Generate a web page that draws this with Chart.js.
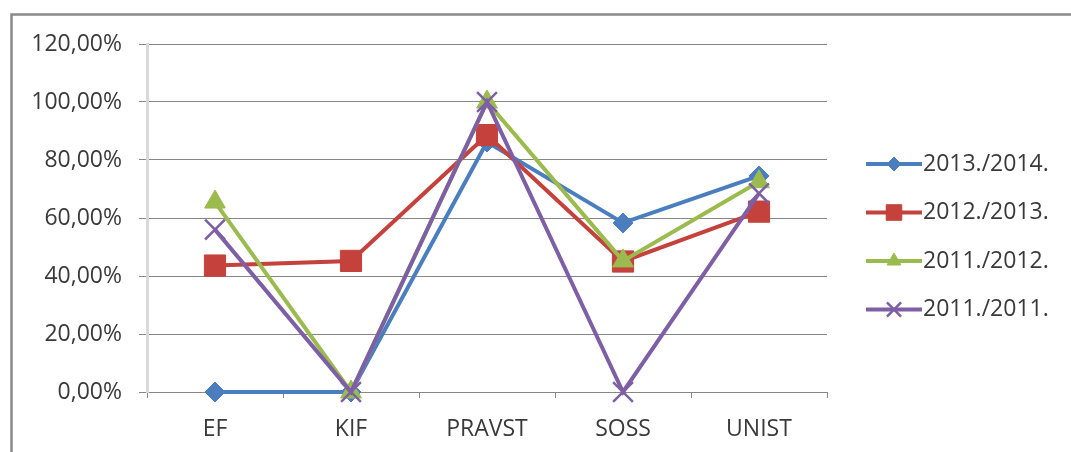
<!DOCTYPE html>
<html>
<head>
<meta charset="utf-8">
<title>Prolaznost</title>
<script src="https://cdn.jsdelivr.net/npm/chart.js@4.4.1/dist/chart.umd.min.js"></script>
<style>
  html, body { margin: 0; padding: 0; background: #fff; }
  #wrap { width: 1071px; height: 452px; }
</style>
</head>
<body>
<div id="wrap"><canvas id="lineChart" width="1071" height="452"></canvas></div>
<script>
// --- Data ---
const categories = ['EF', 'KIF', 'PRAVST', 'SOSS', 'UNIST'];
const seriesNames = ['2013./2014.', '2012./2013.', '2011./2012.', '2011./2011.'];
const values1314 = [0, 0, 0.862, 0.583, 0.745];
const values1213 = [0.436, 0.452, 0.886, 0.45, 0.622];
const values1112 = [0.655, 0, 1.0, 0.452, 0.725];
const values1111 = [0.56, 0, 1.0, 0, 0.685];
const yTickValues = [0, 0.2, 0.4, 0.6, 0.8, 1.0, 1.2];

// --- Styles ---
const colors = ['#4a7ebf', '#c4413c', '#9bbb4f', '#7e5fa6'];
const markerStyles = ['rectRot', 'rect', 'triangle', 'crossRot'];
const markerRadius = [10, 15, 12, 14];
const legendRadius = [7, 11, 8, 10];
const textColor = '#3a3a3a';
const fontFamily = '"Open Sans", "Liberation Sans", sans-serif';
const fontSize = 23;
const gridColor = '#868686';

function pct(v) {
    return (v * 100).toFixed(2).replace('.', ',') + '%';
}

// frame around the chart (top + left edge like the screenshot)
const framePlugin = {
    id: 'frame',
    beforeDraw(chart) {
        const ctx = chart.ctx;
        ctx.save();
        ctx.strokeStyle = '#8a8a8a';
        ctx.lineWidth = 2.5;
        ctx.beginPath();
        ctx.moveTo(11.5, chart.height);
        ctx.lineTo(11.5, 14.5);
        ctx.lineTo(chart.width, 14.5);
        ctx.stroke();
        ctx.restore();
    }
};

// Excel style legend: line with marker + label
const legendPlugin = {
    id: 'excelLegend',
    afterDraw(chart) {
        const ctx = chart.ctx;
        const x0 = chart.chartArea.right + 39;
        const lineLen = 56;
        ctx.save();
        chart.data.datasets.forEach((ds, i) => {
            const y = 164 + i * 48.5;
            ctx.strokeStyle = ds.borderColor;
            ctx.lineWidth = 4;
            ctx.beginPath();
            ctx.moveTo(x0, y);
            ctx.lineTo(x0 + lineLen, y);
            ctx.stroke();
            ctx.fillStyle = ds.pointBackgroundColor;
            ctx.strokeStyle = ds.pointBorderColor;
            ctx.lineWidth = ds.pointBorderWidth;
            Chart.helpers.drawPoint(ctx, {
                pointStyle: ds.pointStyle,
                radius: legendRadius[i],
                borderWidth: ds.pointBorderWidth,
                rotation: 0
            }, x0 + lineLen / 2, y);
            ctx.fillStyle = textColor;
            ctx.font = fontSize + 'px ' + fontFamily;
            ctx.textBaseline = 'middle';
            ctx.textAlign = 'left';
            ctx.fillText(ds.label, x0 + lineLen + 1, y);
        });
        ctx.restore();
    }
};

const datasetValues = [values1314, values1213, values1112, values1111];
const datasets = datasetValues.map((vals, i) => ({
    label: seriesNames[i],
    data: vals,
    borderColor: colors[i],
    backgroundColor: colors[i],
    borderWidth: 4,
    pointStyle: markerStyles[i],
    pointRadius: markerRadius[i],
    pointBackgroundColor: colors[i],
    pointBorderColor: colors[i],
    pointBorderWidth: i === 3 ? 2.5 : 1,
    tension: 0,
    clip: false,
    order: 3 - i
}));

const chart = new Chart(document.getElementById('lineChart'), {
    type: 'line',
    data: { labels: categories, datasets: datasets },
    options: {
        responsive: false,
        animation: false,
        layout: { padding: { left: 14, top: 44, right: 244, bottom: 0 } },
        plugins: { legend: { display: false }, tooltip: { enabled: false } },
        scales: {
            x: {
                offset: true,
                grid: { offset: true, drawOnChartArea: false, drawTicks: true, tickLength: 6, color: gridColor },
                border: { color: gridColor, width: 1 },
                ticks: { padding: 18, color: textColor, font: { family: fontFamily, size: fontSize } },
                afterFit: s => { s.height = 60; }
            },
            y: {
                min: 0,
                max: 1.2,
                afterBuildTicks: s => { s.ticks = yTickValues.map(v => ({ value: v })); },
                grid: { color: gridColor, tickLength: 8 },
                border: { color: '#d9d9d9', width: 3 },
                ticks: { padding: 17, color: textColor, font: { family: fontFamily, size: fontSize }, callback: v => pct(v) },
                afterFit: s => { s.width = 133; }
            }
        }
    },
    plugins: [framePlugin, legendPlugin]
});
</script>
</body>
</html>
